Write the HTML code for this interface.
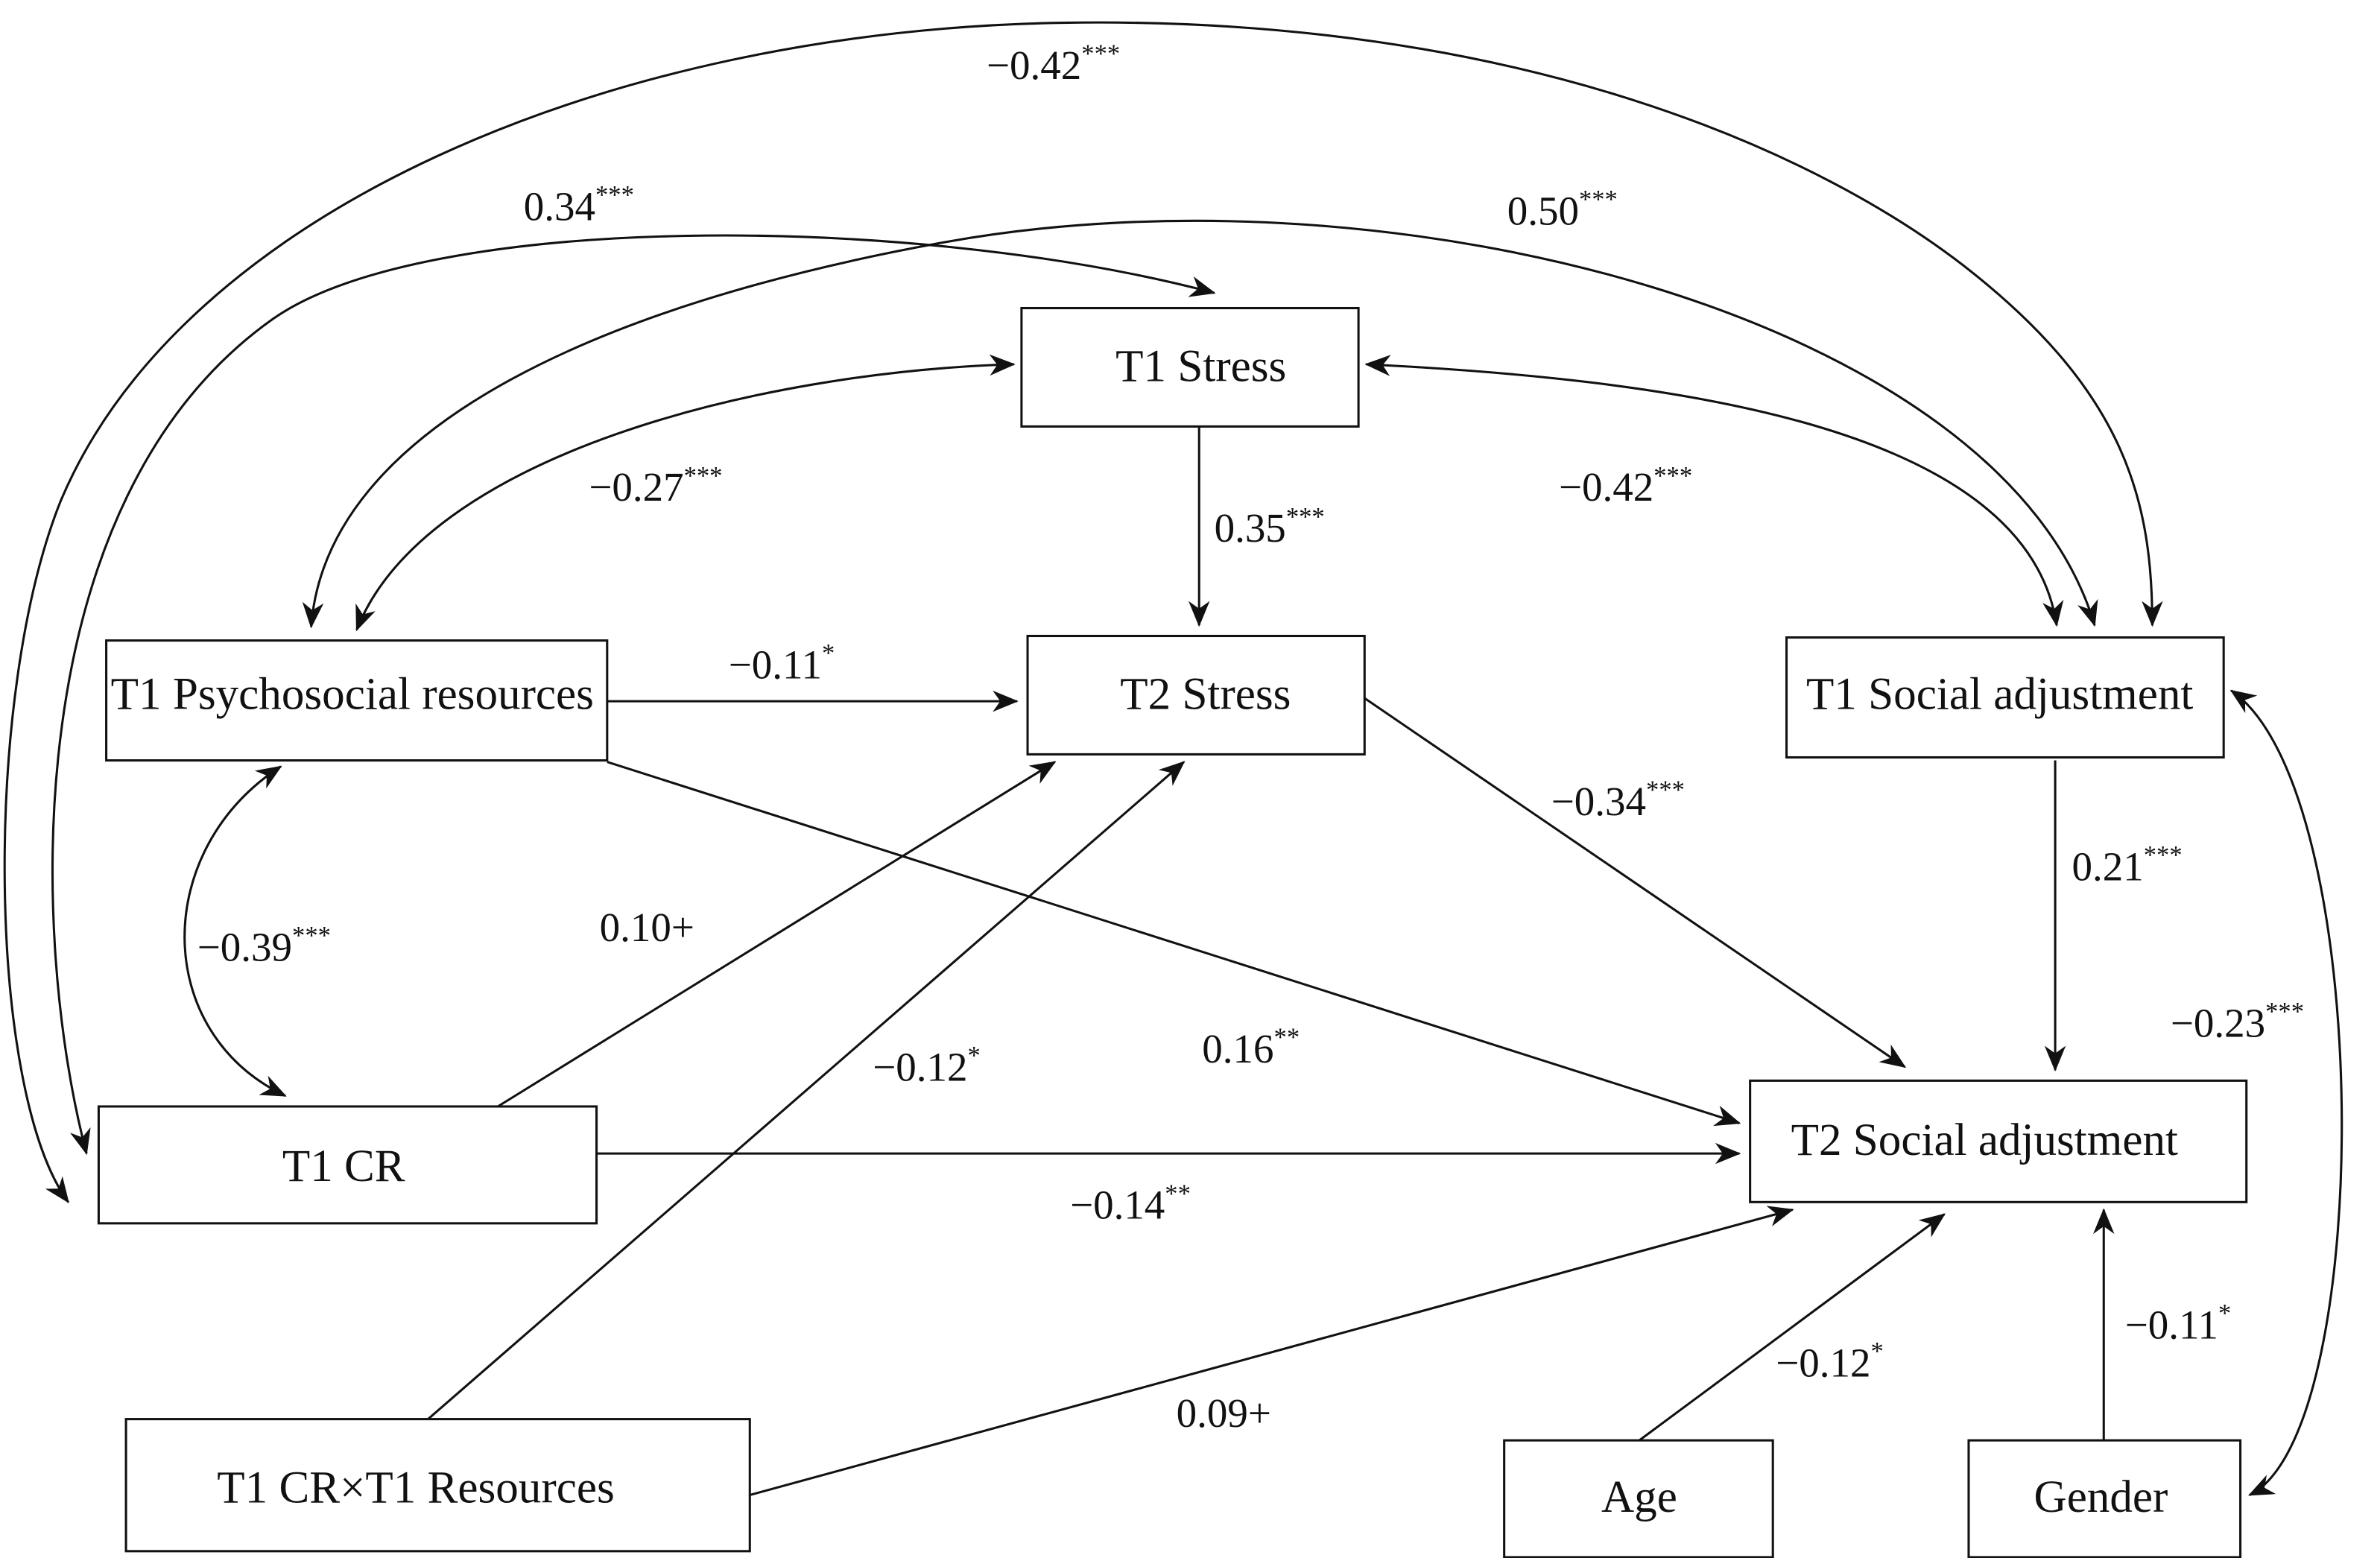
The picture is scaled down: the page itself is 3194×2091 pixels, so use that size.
<!DOCTYPE html>
<html><head><meta charset="utf-8"><style>
html,body{margin:0;padding:0;background:#fff;}
svg{display:block;}
text{font-family:"Liberation Serif",serif;fill:#111;}
.n{font-size:30px;}
.l{font-size:27px;}
.s{font-size:17px;}
</style></head><body>
<svg width="3194" height="2091" viewBox="0 0 1568 1026.5" preserveAspectRatio="none" xmlns="http://www.w3.org/2000/svg">
<defs>
<marker id="a" markerUnits="userSpaceOnUse" markerWidth="20" markerHeight="16" refX="16" refY="7" orient="auto-start-reverse">
<path d="M0,0 L17,7 L0,14 L5,7 Z" fill="#111"/>
</marker>
</defs>
<g fill="none" stroke="#111" stroke-width="1.5">
<rect x="673" y="203" width="222" height="78"/>
<rect x="677" y="419" width="222" height="78"/>
<rect x="70" y="422" width="330" height="79"/>
<rect x="1177" y="420" width="288" height="79"/>
<rect x="65" y="729" width="328" height="77"/>
<rect x="1153" y="712" width="327" height="80"/>
<rect x="83" y="935" width="411" height="87"/>
<rect x="991" y="949" width="177" height="77"/>
<rect x="1297" y="949" width="179" height="77"/>
</g>
<g fill="none" stroke="#111" stroke-width="1.5">
<path d="M790 281 L790 412" marker-end="url(#a)"/>
<path d="M400 462 L670 462" marker-end="url(#a)"/>
<path d="M899 460 L1255 703" marker-end="url(#a)"/>
<path d="M400 502 L1146 740" marker-end="url(#a)"/>
<path d="M393 760 L1146 760" marker-end="url(#a)"/>
<path d="M328 729 L695 502" marker-end="url(#a)"/>
<path d="M282 935 L780 502" marker-end="url(#a)"/>
<path d="M494 985 L1181 797" marker-end="url(#a)"/>
<path d="M1080 949 L1281 800" marker-end="url(#a)"/>
<path d="M1386 949 L1386 797" marker-end="url(#a)"/>
<path d="M1354 501 L1354 705" marker-end="url(#a)"/>
<path d="M45 792 C-8 720 -12 460 40 330 C120 140 400 20 700 15 C1000 10 1200 100 1300 180 C1400 260 1418 330 1418 412" marker-start="url(#a)" marker-end="url(#a)"/>
<path d="M57 760 C20 620 10 330 180 210 C280 140 600 140 800 193" marker-start="url(#a)" marker-end="url(#a)"/>
<path d="M205 413 C215 280 400 200 620 160 C920 105 1320 210 1380 412" marker-start="url(#a)" marker-end="url(#a)"/>
<path d="M235 415 C280 300 500 245 668 240" marker-start="url(#a)" marker-end="url(#a)"/>
<path d="M900 240 C1100 250 1335 280 1355 412" marker-start="url(#a)" marker-end="url(#a)"/>
<path d="M185 505 C100 560 100 680 188 722" marker-start="url(#a)" marker-end="url(#a)"/>
<path d="M1470 455 C1565 520 1565 945 1482 985" marker-start="url(#a)" marker-end="url(#a)"/>
</g>
<g class="n">
<text x="735" y="251">T1 Stress</text>
<text x="738" y="467">T2 Stress</text>
<text x="73" y="467">T1 Psychosocial resources</text>
<text x="1190" y="467">T1 Social adjustment</text>
<text x="186" y="778">T1 CR</text>
<text x="1180" y="761">T2 Social adjustment</text>
<text x="143" y="990">T1 CR×T1 Resources</text>
<text x="1055" y="996">Age</text>
<text x="1340" y="996">Gender</text>
</g>
<g class="l">
<text x="650" y="52">−0.42<tspan class="s" dy="-11">***</tspan></text>
<text x="345" y="145">0.34<tspan class="s" dy="-11">***</tspan></text>
<text x="993" y="148">0.50<tspan class="s" dy="-11">***</tspan></text>
<text x="388" y="330">−0.27<tspan class="s" dy="-11">***</tspan></text>
<text x="800" y="357">0.35<tspan class="s" dy="-11">***</tspan></text>
<text x="1027" y="330">−0.42<tspan class="s" dy="-11">***</tspan></text>
<text x="480" y="447">−0.11<tspan class="s" dy="-11">*</tspan></text>
<text x="1022" y="537">−0.34<tspan class="s" dy="-11">***</tspan></text>
<text x="1365" y="580">0.21<tspan class="s" dy="-11">***</tspan></text>
<text x="130" y="633">−0.39<tspan class="s" dy="-11">***</tspan></text>
<text x="395" y="620">0.10+</text>
<text x="575" y="712">−0.12<tspan class="s" dy="-11">*</tspan></text>
<text x="792" y="700">0.16<tspan class="s" dy="-11">**</tspan></text>
<text x="1430" y="683">−0.23<tspan class="s" dy="-11">***</tspan></text>
<text x="705" y="803">−0.14<tspan class="s" dy="-11">**</tspan></text>
<text x="775" y="940">0.09+</text>
<text x="1170" y="907">−0.12<tspan class="s" dy="-11">*</tspan></text>
<text x="1400" y="882">−0.11<tspan class="s" dy="-11">*</tspan></text>
</g>
</svg>
</body></html>
